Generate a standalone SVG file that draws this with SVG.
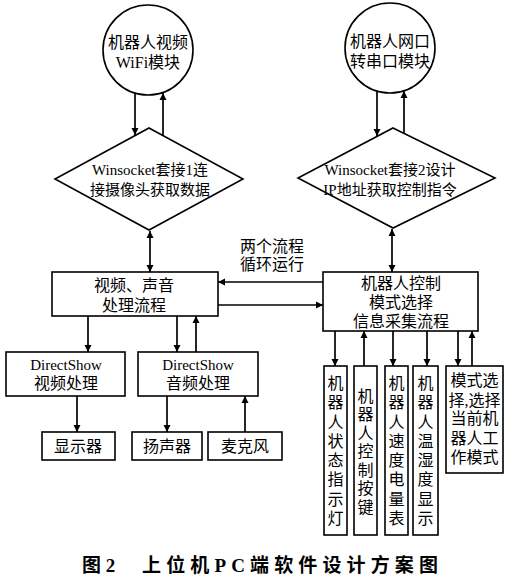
<svg xmlns="http://www.w3.org/2000/svg" width="511" height="584" viewBox="0 0 511 584">
<style>
.s{fill:#fff;stroke:#000;stroke-width:1.6}
.t{font-family:"Liberation Serif","Noto Sans CJK SC",serif;font-size:16px;fill:#000;text-anchor:middle}
.d{font-size:15px}
.c line{stroke:#000;stroke-width:1.7;fill:none}
.a{marker-end:url(#ah)}
.b{marker-start:url(#ah);marker-end:url(#ah)}
</style>
<defs>
<marker id="ah" viewBox="0 0 10 10" refX="10" refY="5" markerWidth="7" markerHeight="9" markerUnits="userSpaceOnUse" orient="auto-start-reverse">
<path d="M0,0 L10,5 L0,10 z" fill="#000"/>
</marker>
</defs>
<rect width="511" height="584" fill="#fff"/>
<g class="c" id="connectors">
<line class="a" x1="135" y1="93" x2="135" y2="135"/>
<line class="a" x1="163" y1="135" x2="163" y2="93"/>
<line class="a" x1="377" y1="91" x2="377" y2="136"/>
<line class="a" x1="404" y1="134" x2="404" y2="91"/>
<line class="b" x1="150" y1="231" x2="150" y2="272"/>
<line class="b" x1="392" y1="229" x2="392" y2="272"/>
<line class="a" x1="323" y1="282" x2="218" y2="282"/>
<line class="a" x1="218" y1="305" x2="323" y2="305"/>
<line class="a" x1="88" y1="316" x2="88" y2="352"/>
<line class="a" x1="177" y1="316" x2="177" y2="352"/>
<line class="a" x1="196" y1="352" x2="196" y2="316"/>
<line class="a" x1="77" y1="396" x2="77" y2="432"/>
<line class="a" x1="167" y1="396" x2="167" y2="432"/>
<line class="a" x1="245" y1="432" x2="245" y2="396"/>
<line class="a" x1="335" y1="331" x2="335" y2="366"/>
<line class="a" x1="364" y1="366" x2="364" y2="331"/>
<line class="a" x1="393" y1="331" x2="393" y2="366"/>
<line class="a" x1="427" y1="331" x2="427" y2="366"/>
<line class="a" x1="458" y1="331" x2="458" y2="366"/>
<line class="a" x1="472" y1="366" x2="472" y2="331"/>
</g>
<g id="wifi">
<circle class="s" cx="148" cy="50" r="45"/>
<text class="t" x="148" y="48">机器人视频</text>
<text class="t" x="148" y="68">WiFi模块</text>
</g>
<g id="serial">
<circle class="s" cx="390" cy="48" r="45"/>
<text class="t" x="390" y="47">机器人网口</text>
<text class="t" x="390" y="67">转串口模块</text>
</g>
<g id="sock1">
<polygon class="s" points="149,128 243,179 149,230 55,179"/>
<text class="t d" x="150" y="175">Winsocket套接1连</text>
<text class="t d" x="150" y="195">接摄像头获取数据</text>
</g>
<g id="sock2">
<polygon class="s" points="393,128 495,178 393,228 298,178"/>
<text class="t d" x="390" y="175">Winsocket套接2设计</text>
<text class="t d" x="390" y="195">IP地址获取控制指令</text>
</g>
<g id="loop-label">
<text class="t" x="272" y="252">两个流程</text>
<text class="t" x="272" y="270">循环运行</text>
</g>
<g id="av">
<rect class="s" x="52" y="272" width="166" height="44"/>
<text class="t" x="134" y="291">视频、声音</text>
<text class="t" x="134" y="311">处理流程</text>
</g>
<g id="ctrl">
<rect class="s" x="323" y="272" width="155" height="59"/>
<text class="t" x="401" y="289">机器人控制</text>
<text class="t" x="401" y="308">模式选择</text>
<text class="t" x="401" y="327">信息采集流程</text>
</g>
<g id="dsv">
<rect class="s" x="6" y="352" width="119" height="44"/>
<text class="t d" x="66" y="370">DirectShow</text>
<text class="t" x="66" y="389">视频处理</text>
</g>
<g id="dsa">
<rect class="s" x="138" y="352" width="120" height="44"/>
<text class="t d" x="198" y="370">DirectShow</text>
<text class="t" x="198" y="389">音频处理</text>
</g>
<g id="display">
<rect class="s" x="42" y="432" width="73" height="28"/>
<text class="t" x="78" y="452">显示器</text>
</g>
<g id="speaker">
<rect class="s" x="132" y="432" width="70" height="28"/>
<text class="t" x="167" y="452">扬声器</text>
</g>
<g id="mic">
<rect class="s" x="208" y="432" width="74" height="28"/>
<text class="t" x="245" y="452">麦克风</text>
</g>
<g id="led">
<rect class="s" x="324" y="366" width="23" height="169"/>
<text class="t" x="335.5"><tspan x="335.5" y="389">机</tspan><tspan x="335.5" y="408">器</tspan><tspan x="335.5" y="428">人</tspan><tspan x="335.5" y="447">状</tspan><tspan x="335.5" y="466">态</tspan><tspan x="335.5" y="485">指</tspan><tspan x="335.5" y="505">示</tspan><tspan x="335.5" y="524">灯</tspan></text>
</g>
<g id="keys">
<rect class="s" x="354" y="366" width="23" height="169"/>
<text class="t" x="365.5"><tspan x="365.5" y="402">机</tspan><tspan x="365.5" y="420">器</tspan><tspan x="365.5" y="439">人</tspan><tspan x="365.5" y="457">控</tspan><tspan x="365.5" y="476">制</tspan><tspan x="365.5" y="494">按</tspan><tspan x="365.5" y="513">键</tspan></text>
</g>
<g id="speed">
<rect class="s" x="385" y="366" width="23" height="169"/>
<text class="t" x="396.5"><tspan x="396.5" y="389">机</tspan><tspan x="396.5" y="408">器</tspan><tspan x="396.5" y="428">人</tspan><tspan x="396.5" y="447">速</tspan><tspan x="396.5" y="466">度</tspan><tspan x="396.5" y="485">电</tspan><tspan x="396.5" y="505">量</tspan><tspan x="396.5" y="524">表</tspan></text>
</g>
<g id="temp">
<rect class="s" x="413" y="366" width="25" height="169"/>
<text class="t" x="425.5"><tspan x="425.5" y="389">机</tspan><tspan x="425.5" y="408">器</tspan><tspan x="425.5" y="428">人</tspan><tspan x="425.5" y="447">温</tspan><tspan x="425.5" y="466">湿</tspan><tspan x="425.5" y="485">度</tspan><tspan x="425.5" y="505">显</tspan><tspan x="425.5" y="524">示</tspan></text>
</g>
<g id="mode">
<rect class="s" x="446" y="366" width="57" height="107"/>
<text class="t" x="474.5"><tspan x="474.5" y="386">模式选</tspan><tspan x="474.5" y="406">择,选择</tspan><tspan x="474.5" y="424">当前机</tspan><tspan x="474.5" y="444">器人工</tspan><tspan x="474.5" y="463">作模式</tspan></text>
</g>
<g id="caption">
<text x="82" y="572" style="font-family:'Liberation Serif','Noto Sans CJK SC',serif;font-size:19px;font-weight:bold">图 2</text>
<text x="142" y="572" textLength="296" lengthAdjust="spacing" style="font-family:'Liberation Serif','Noto Sans CJK SC',serif;font-size:19px;font-weight:bold">上位机PC端软件设计方案图</text>
</g>
</svg>
